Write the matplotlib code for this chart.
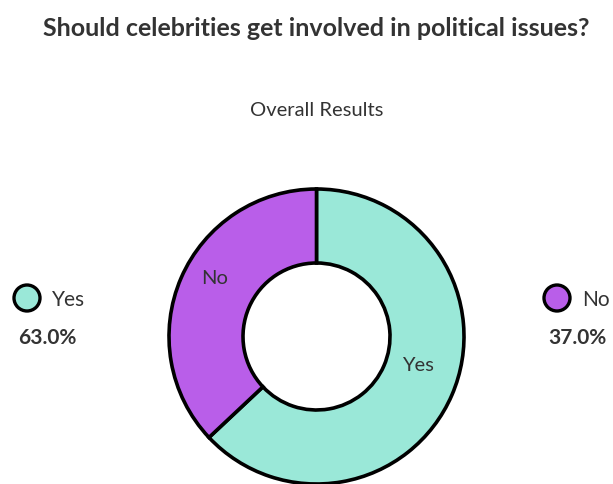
import matplotlib
matplotlib.use("Agg")
import matplotlib.pyplot as plt
from matplotlib.patches import Circle

# Survey results
categories = ["Yes", "No"]
shares = [63.0, 37.0]
colors = ["#9ae8d8", "#b95ee9"]

TEXT = "#333333"
W, H = 613, 485

fig = plt.figure(figsize=(W / 100, H / 100), dpi=100)
ax = fig.add_axes([0, 0, 1, 1])

def py(y):
    # pixel row (top-down) to data y
    return H - y

cx, cy, R, ring = 316.5, py(337.5), 147.5, 74

wedges, _ = ax.pie(shares, colors=colors, startangle=90, counterclock=False,
                   center=(cx, cy), radius=R, frame=True,
                   wedgeprops=dict(width=ring, edgecolor="black", linewidth=2.6))
ax.set_xlim(0, W)
ax.set_ylim(0, H)
ax.set_aspect("equal")
ax.axis("off")

# labels inside the ring
ax.text(418, py(366), categories[0], ha="center", va="center", fontsize=14.5,
        family="Lato", color=TEXT)
ax.text(215, py(278), categories[1], ha="center", va="center", fontsize=14.5,
        family="Lato", color=TEXT)

# Title and subtitle
ax.text(316, py(29), "Should celebrities get involved in political issues?",
        ha="center", va="center", fontsize=18, fontweight="bold",
        family="Lato", color=TEXT)
ax.text(317, py(111), "Overall Results", ha="center", va="center",
        fontsize=14.5, family="Lato", color=TEXT)

# Side legends
legend_pos = [(27, 52, 47), (557, 582, 577)]
for (mx, tx, px), cat, val, col in zip(legend_pos, categories, shares, colors):
    ax.add_patch(Circle((mx, py(299)), 13, facecolor=col, edgecolor="black",
                        linewidth=2.4, zorder=3))
    ax.text(tx, py(300), cat, ha="left", va="center", fontsize=15,
            family="Lato", color=TEXT)
    ax.text(px, py(338), f"{val:.1f}%", ha="center", va="center",
            fontsize=15, fontweight="bold", family="Lato", color=TEXT)

fig.savefig("out.png", dpi=100, facecolor="white")
